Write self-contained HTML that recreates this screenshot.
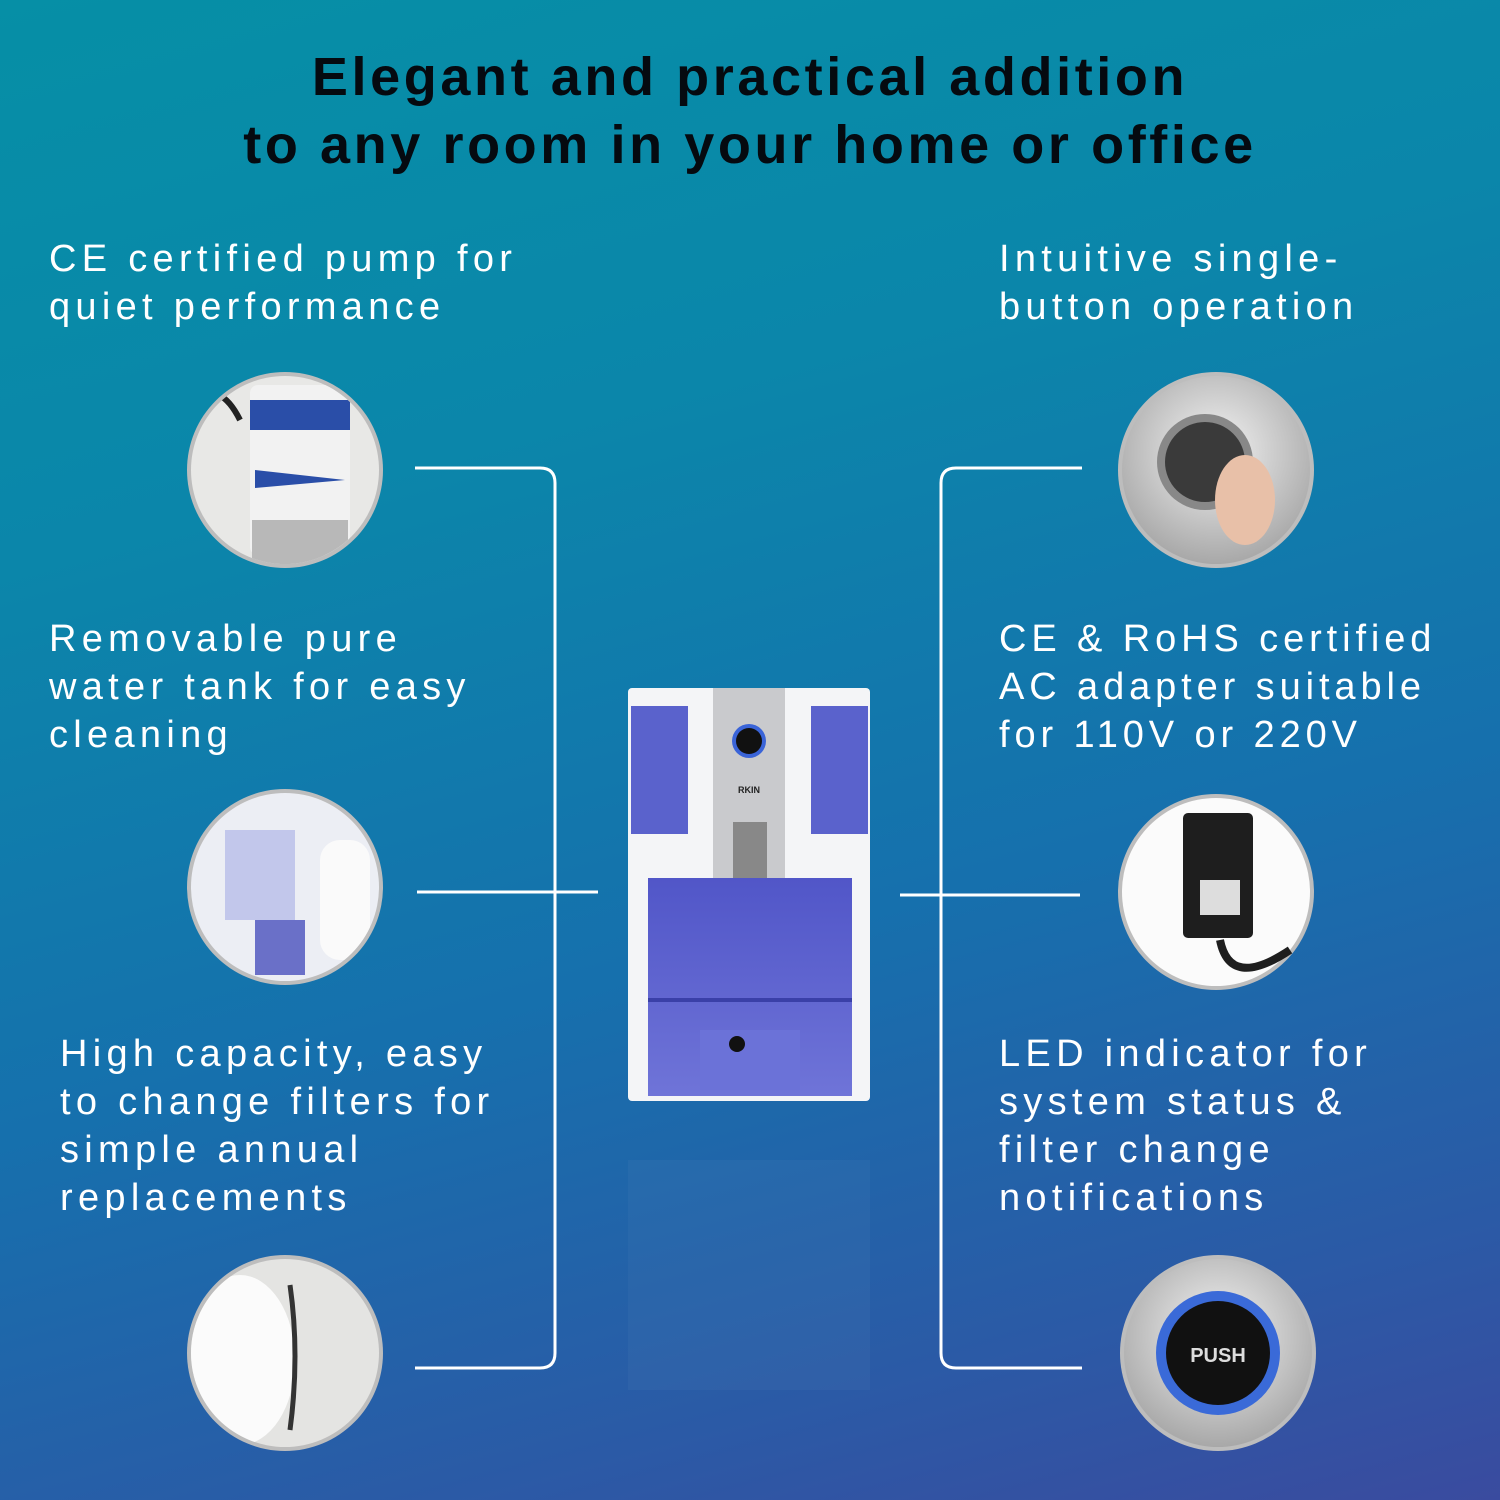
<!DOCTYPE html>
<html><head><meta charset="utf-8"><style>
html,body{margin:0;padding:0}
body{width:1500px;height:1500px;position:relative;overflow:hidden;
background:linear-gradient(165deg,#068fa6 0%,#0b86aa 30%,#1670ad 60%,#2b5aa6 85%,#3a4b9f 100%);
font-family:"Liberation Sans",sans-serif}
.t{position:absolute;left:0;width:1500px;text-align:center;font-weight:bold;color:#050a10;font-size:54px;letter-spacing:3.6px;line-height:68px;top:43px}
.f{position:absolute;color:#fff;font-size:38px;letter-spacing:5.3px;line-height:48px;white-space:nowrap}
svg{position:absolute;left:0;top:0}
</style></head><body>
<div class="t">Elegant and practical addition<br>to any room in your home or office</div>
<div class="f" style="left:49px;top:235px">CE certified pump for<br>quiet performance</div>
<div class="f" style="left:49px;top:615px">Removable pure<br>water tank for easy<br>cleaning</div>
<div class="f" style="left:60px;top:1030px">High capacity, easy<br>to change filters for<br>simple annual<br>replacements</div>
<div class="f" style="left:999px;top:235px">Intuitive single-<br>button operation</div>
<div class="f" style="left:999px;top:615px;letter-spacing:4.9px">CE &amp; RoHS certified<br>AC adapter suitable<br>for 110V or 220V</div>
<div class="f" style="left:999px;top:1030px">LED indicator for<br>system status &amp;<br>filter change<br>notifications</div>
<svg width="1500" height="1500" viewBox="0 0 1500 1500">
<defs>
<radialGradient id="sil" cx="50%" cy="40%" r="60%"><stop offset="0" stop-color="#f4f4f4"/><stop offset="1" stop-color="#a8a8a8"/></radialGradient>
<linearGradient id="tank" x1="0" y1="0" x2="0" y2="1"><stop offset="0" stop-color="#5156c8"/><stop offset="1" stop-color="#6f74d8"/></linearGradient>
<clipPath id="c1"><circle cx="285" cy="1353" r="94"/></clipPath>
<clipPath id="c2"><circle cx="285" cy="470" r="94"/></clipPath>
<clipPath id="c3"><circle cx="285" cy="887" r="94"/></clipPath>
</defs>
<g fill="none" stroke="#fff" stroke-width="3">
<path d="M415 468 H540 Q555 468 555 483 V1353 Q555 1368 540 1368 H415"/>
<path d="M417 892 H598"/>
<path d="M1082 468 H956 Q941 468 941 483 V1353 Q941 1368 956 1368 H1082"/>
<path d="M900 895 H1080"/>
</g>
<g>
<circle cx="285" cy="470" r="98" fill="#bdbdbd"/><circle cx="285" cy="470" r="94" fill="#e8e8e6"/>
<g clip-path="url(#c2)">
<rect x="250" y="385" width="100" height="170" rx="8" fill="#f2f2f2"/>
<rect x="250" y="400" width="100" height="30" fill="#2a4ea8"/>
<rect x="252" y="520" width="96" height="50" fill="#b8b8b8"/>
<path d="M255 470 L345 480 L255 488Z" fill="#2a4ea8"/>
<path d="M195 400 Q220 380 240 420" stroke="#222" stroke-width="6" fill="none"/>
</g></g>
<g>
<circle cx="285" cy="887" r="98" fill="#bdbdbd"/><circle cx="285" cy="887" r="94" fill="#eceef4"/>
<g clip-path="url(#c3)">
<rect x="225" y="830" width="70" height="90" fill="#b8bde8" opacity=".8"/>
<rect x="255" y="920" width="50" height="55" fill="#6a70c8"/>
<rect x="320" y="840" width="50" height="120" rx="20" fill="#fafafa"/>
</g></g>
<g>
<circle cx="285" cy="1353" r="98" fill="#bdbdbd"/><circle cx="285" cy="1353" r="94" fill="#e4e4e2"/>
<g clip-path="url(#c1)">
<ellipse cx="240" cy="1360" rx="55" ry="85" fill="#fbfbfb"/>
<path d="M290 1285 Q300 1355 290 1430" stroke="#333" stroke-width="5" fill="none"/>
</g></g>
<g>
<circle cx="1216" cy="470" r="98" fill="#bdbdbd"/><circle cx="1216" cy="470" r="94" fill="url(#sil)"/>
<circle cx="1205" cy="462" r="48" fill="#888"/><circle cx="1205" cy="462" r="40" fill="#3a3a3a"/>
<ellipse cx="1245" cy="500" rx="30" ry="45" fill="#e8c0a8"/>
</g>
<g>
<circle cx="1216" cy="892" r="98" fill="#bdbdbd"/><circle cx="1216" cy="892" r="94" fill="#fbfbfb"/>
<rect x="1183" y="813" width="70" height="125" rx="5" fill="#1e1e1e"/>
<rect x="1200" y="880" width="40" height="35" fill="#ddd"/>
<path d="M1220 940 Q1230 990 1290 950" stroke="#1e1e1e" stroke-width="8" fill="none"/>
</g>
<g>
<circle cx="1218" cy="1353" r="98" fill="#bdbdbd"/><circle cx="1218" cy="1353" r="94" fill="url(#sil)"/>
<circle cx="1218" cy="1353" r="62" fill="#3a6ad8"/><circle cx="1218" cy="1353" r="52" fill="#111"/>
<text x="1218" y="1362" fill="#ddd" font-size="20" font-family="Liberation Sans" text-anchor="middle" font-weight="bold">PUSH</text>
</g>
<g>
<rect x="628" y="688" width="242" height="413" rx="4" fill="#f4f5f7"/>
<rect x="631" y="706" width="57" height="128" fill="#5a62cc"/>
<rect x="811" y="706" width="57" height="128" fill="#5a62cc"/>
<rect x="713" y="688" width="72" height="190" fill="#c9cacd"/>
<circle cx="749" cy="741" r="17" fill="#3a64d8"/><circle cx="749" cy="741" r="13" fill="#111"/>
<text x="749" y="793" font-size="9" font-weight="bold" text-anchor="middle" fill="#222" font-family="Liberation Sans">RKIN</text>
<rect x="733" y="822" width="34" height="56" fill="#888"/>
<rect x="648" y="878" width="204" height="218" fill="url(#tank)"/>
<rect x="700" y="1030" width="100" height="60" fill="#6b72d8"/>
<circle cx="737" cy="1044" r="8" fill="#111"/>
<rect x="648" y="998" width="204" height="4" fill="#3a40a8"/>
</g>
<g opacity=".03"><rect x="628" y="1160" width="242" height="230" fill="#fff"/></g>
</svg>
</body></html>
